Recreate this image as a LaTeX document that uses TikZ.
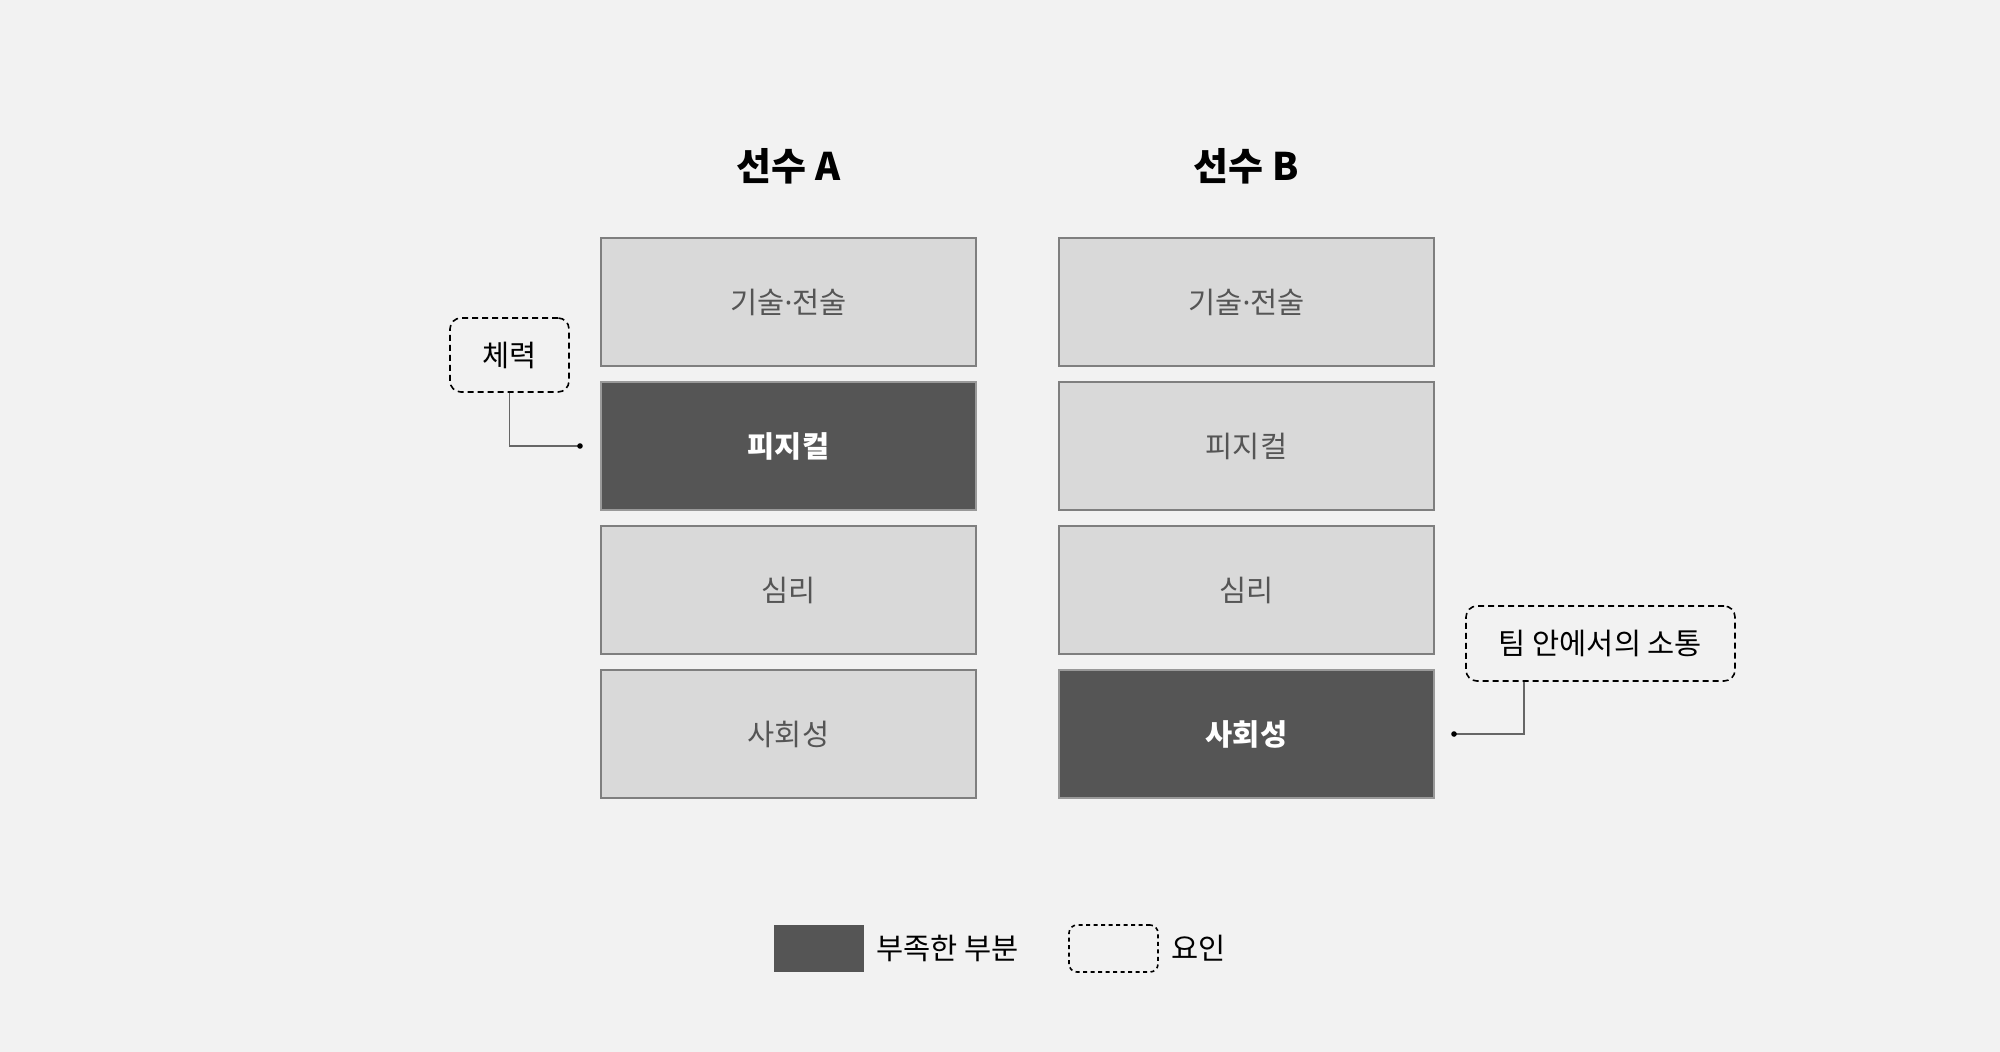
\documentclass[tikz,border=0pt]{standalone}
\usepackage{fontspec}
\setmainfont{Noto Sans CJK KR}
\newfontfamily\dotfont{Noto Sans}
\newcommand{\mdot}{{\dotfont\bfseries ·}}
\definecolor{bg}{HTML}{F2F2F2}
\definecolor{lightfill}{HTML}{D9D9D9}
\definecolor{boxline}{HTML}{7F7F7F}
\definecolor{darkfill}{HTML}{555555}
\definecolor{lighttext}{HTML}{555555}
\definecolor{connline}{HTML}{666666}
\begin{document}
\begin{tikzpicture}[x=1pt,y=-1pt,
  factor/.style={draw=boxline, line width=1.5pt, minimum width=375pt, minimum height=128pt, inner sep=0pt},
  normalbox/.style={factor, fill=lightfill, text=lighttext, font=\fontsize{29.5}{34}\selectfont},
  weakbox/.style={factor, fill=darkfill, draw=boxline!80, text=white, font=\fontsize{29.5}{34}\selectfont\bfseries},
  title/.style={font=\fontsize{38}{44}\selectfont\bfseries, text=black},
  callout/.style={draw=black, line width=1.6pt, dash pattern=on 6pt off 4pt, rounded corners=11pt, inner sep=0pt, font=\fontsize{29.5}{34}\selectfont, text=black},
  conn/.style={draw=connline, line width=1.5pt},
  legtext/.style={anchor=west, inner sep=0pt, font=\fontsize{29.5}{34}\selectfont, text=black}
]
\useasboundingbox[fill=bg] (0,0) rectangle (2000,1052);

% titles
\node[title] (tA) at (788.5,166) {선수 A};
\node[title] (tB) at (1246.5,166) {선수 B};

% column A
\node[normalbox] (a1) at (788.5,302) {기술\mdot 전술};
\node[weakbox]   (a2) at (788.5,446) {피지컬};
\node[normalbox] (a3) at (788.5,590) {심리};
\node[normalbox] (a4) at (788.5,734) {사회성};

% column B
\node[normalbox] (b1) at (1246.5,302) {기술\mdot 전술};
\node[normalbox] (b2) at (1246.5,446) {피지컬};
\node[normalbox] (b3) at (1246.5,590) {심리};
\node[weakbox]   (b4) at (1246.5,734) {사회성};

% callouts
\node[callout, minimum width=119pt, minimum height=74pt] (c1) at (509.5,355) {체력};
\node[callout, minimum width=269pt, minimum height=75pt] (c2) at (1600.5,643.5) {팀 안에서의 소통};

\coordinate (dA) at (580,446);
\coordinate (dB) at (1454,734);
\coordinate (kB) at ([xshift=-76.5pt]c2.south);

\draw[conn] (c1.south) |- (dA);
\draw[conn] (kB) |- (dB);
\fill[black] (dA) circle (2.8);
\fill[black] (dB) circle (2.8);

% legend
\node[fill=darkfill, minimum width=90pt, minimum height=47pt, inner sep=0pt] (l1) at (819,948.5) {};
\node[legtext] (l1t) at (876,948) {부족한 부분};
\node[draw=black, line width=1.6pt, dash pattern=on 4pt off 3.5pt, rounded corners=8pt, minimum width=89pt, minimum height=47pt, inner sep=0pt] (l2) at (1113.5,948.5) {};
\node[legtext] (l2t) at (1171,948) {요인};
\end{tikzpicture}
\end{document}
